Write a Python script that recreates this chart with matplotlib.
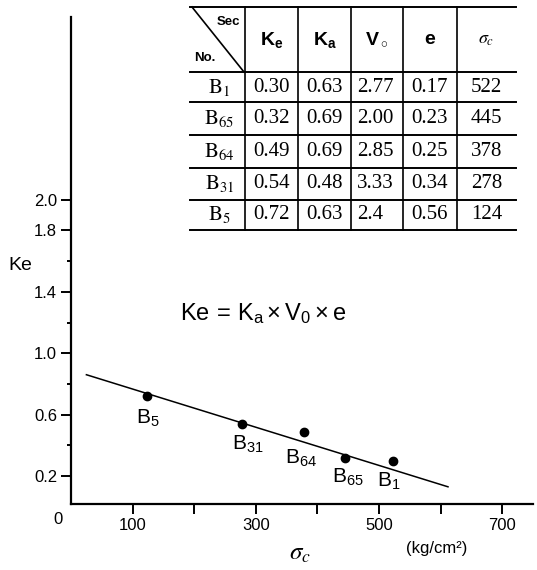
import matplotlib
matplotlib.use('Agg')
from matplotlib import pyplot as plt

plt.rcParams['font.family'] = ['Liberation Sans', 'DejaVu Sans']
plt.rcParams['mathtext.fontset'] = 'custom'
plt.rcParams['mathtext.rm'] = 'Liberation Sans'
plt.rcParams['mathtext.it'] = 'Liberation Sans:italic'
plt.rcParams['mathtext.bf'] = 'Liberation Sans:bold'

# section data
sections = ['1', '65', '64', '31', '5']
ke = [0.30, 0.32, 0.49, 0.54, 0.72]
ka = [0.63, 0.69, 0.69, 0.48, 0.63]
vo = ['2.77', '2.00', '2.85', '3.33', '2.4']
ecc = [0.17, 0.23, 0.25, 0.34, 0.56]
sigma_c = [522, 445, 378, 278, 124]

# fitted trend line end points
fit_x = [25, 612]
fit_y = [0.86, 0.13]

x_ticks = [100, 200, 300, 400, 500, 600, 700]
x_labels = ['100', '', '300', '', '500', '', '700']
y_major = [0.2, 0.6, 1.0, 1.4, 1.8, 2.0]
y_minor = [0.4, 0.8, 1.2, 1.6]

W, H = 537, 570
fig = plt.figure(figsize=(W / 100, H / 100), dpi=100)

ax = fig.add_axes([71 / W, 66 / H, 462 / W, 487 / H])
ax.set_xlim(0, 750)
ax.set_ylim(0.018, 3.19)
for s in ('top', 'right'):
    ax.spines[s].set_visible(False)
for s in ('left', 'bottom'):
    ax.spines[s].set_linewidth(1.6)

ax.set_xticks(x_ticks)
ax.set_xticklabels(x_labels)
ax.set_yticks(y_major)
ax.set_yticklabels([f'{v:.1f}' for v in y_major])
ax.set_yticks(y_minor, minor=True)
ax.tick_params(axis='both', which='major', direction='out', length=7,
               width=1.4, labelsize=12, pad=3)
ax.tick_params(axis='y', which='minor', direction='out', length=3, width=1.4)

ax.plot(fit_x, fit_y, color='black', lw=1.1)
ax.plot(sigma_c, ke, 'o', color='black', ms=6)

label_offsets = {'1': (-3, -15), '65': (2, -14), '64': (-2, -19),
                 '31': (4, -15), '5': (0, -16)}
for name, x, y in zip(sections, sigma_c, ke):
    ax.annotate(r'$\mathrm{B_{%s}}$' % name, (x, y),
                xytext=label_offsets[name], textcoords='offset points',
                ha='center', va='center', fontsize=15)

ax.text(177, 1.26, r'$\mathrm{Ke\,=\,K_a\times V_0\times e}$',
        fontsize=17, va='center', ha='left')

fig.text(58 / W, 1 - 520 / H, '0', fontsize=12, ha='center', va='center')
fig.text(20 / W, 1 - 265 / H, 'Ke', fontsize=14, ha='center', va='center')
fig.text(300 / W, 1 - 553 / H, r'$\sigma_c$', math_fontfamily='stix',
         fontsize=18, ha='center', va='center')
fig.text(437 / W, 1 - 549 / H, '(kg/cm²)', fontsize=12, ha='center',
         va='center')

# table drawn in pixel coordinates
tx0, tx1, ty0, ty1 = 186, 520, 4, 233
tab = fig.add_axes([tx0 / W, 1 - ty1 / H, (tx1 - tx0) / W, (ty1 - ty0) / H])
tab.set_xlim(tx0, tx1)
tab.set_ylim(ty1, ty0)
tab.axis('off')

col_edges = [190, 245, 298, 351, 403, 457, 516]
row_edges = [7, 72, 102, 135, 168, 200, 230]
for yv in row_edges:
    tab.plot([col_edges[0], col_edges[-1]], [yv, yv], color='black', lw=1.4)
for xv in col_edges[1:-1]:
    tab.plot([xv, xv], [row_edges[0], row_edges[-1]], color='black', lw=1.2)
tab.plot([192, 244], [7, 72], color='black', lw=1.2)

tab.text(228, 22, 'Sec', fontsize=9.5, fontweight='bold', ha='center', va='center')
tab.text(205, 58, 'No.', fontsize=9.5, fontweight='bold', ha='center', va='center')

heads = [r'$\mathbf{K_e}$', r'$\mathbf{K_a}$', r'$\mathbf{V_\circ}$', r'$\mathbf{e}$']
hy = (row_edges[0] + row_edges[1]) / 2
for i, h in enumerate(heads):
    cx = (col_edges[i + 1] + col_edges[i + 2]) / 2
    tab.text(cx, hy, h, fontsize=14, ha='center', va='center')
tab.text((col_edges[5] + col_edges[6]) / 2, hy, r'$\sigma_c$',
         math_fontfamily='stix', fontsize=13, ha='center', va='center')

for r, name in enumerate(sections):
    cy = (row_edges[r + 1] + row_edges[r + 2]) / 2
    tab.text((col_edges[0] + col_edges[1]) / 2 + 2, cy, r'$\mathrm{B_{%s}}$' % name,
             math_fontfamily='stix', fontsize=15, ha='center', va='center')
    cells = [f'{ke[r]:.2f}', f'{ka[r]:.2f}', vo[r], f'{ecc[r]:.2f}', f'{sigma_c[r]}']
    for c, txt in enumerate(cells):
        if c == 2:
            tab.text(col_edges[3] + 6, cy, txt, family='Liberation Serif',
                     fontsize=15, ha='left', va='center')
        else:
            cx = (col_edges[c + 1] + col_edges[c + 2]) / 2
            tab.text(cx, cy, txt, family='Liberation Serif', fontsize=15,
                     ha='center', va='center')

fig.savefig('out.png', dpi=100)
